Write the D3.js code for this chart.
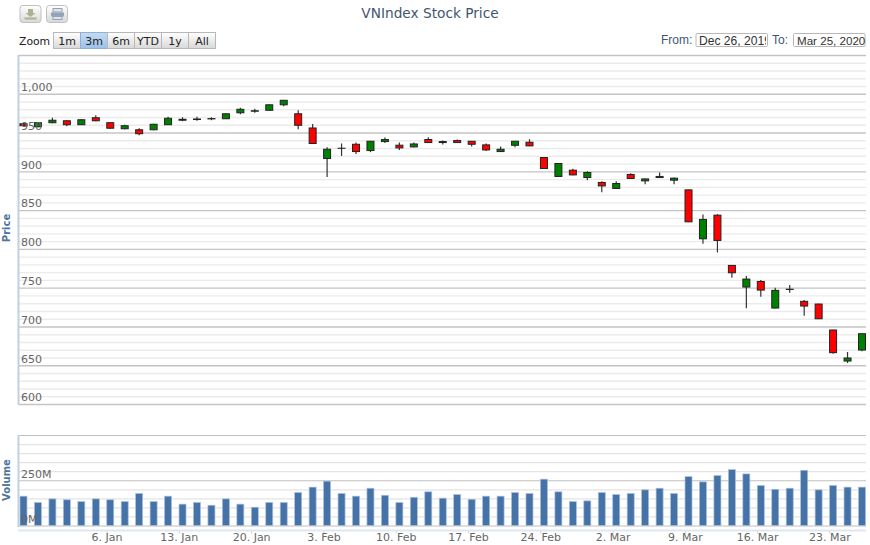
<!DOCTYPE html>
<html>
<head>
<meta charset="utf-8">
<script src="https://cdn.jsdelivr.net/npm/d3@7"></script>
<style>
html, body { margin: 0; padding: 0; background: #fff; overflow: hidden; }
svg { display: block; font-family: "DejaVu Sans", sans-serif; }
</style>
</head>
<body>
<div id="chart"></div>
<script>
// trading days, 26 Dec 2019 - 25 Mar 2020 (Tet holiday is skipped on the axis)
var dates = ["26. Dec","27. Dec","30. Dec","31. Dec","2. Jan","3. Jan",
  "6. Jan","7. Jan","8. Jan","9. Jan","10. Jan","13. Jan","14. Jan","15. Jan","16. Jan","17. Jan",
  "20. Jan","21. Jan","22. Jan","30. Jan","31. Jan",
  "3. Feb","4. Feb","5. Feb","6. Feb","7. Feb","10. Feb","11. Feb","12. Feb","13. Feb","14. Feb",
  "17. Feb","18. Feb","19. Feb","20. Feb","21. Feb","24. Feb","25. Feb","26. Feb","27. Feb","28. Feb",
  "2. Mar","3. Mar","4. Mar","5. Mar","6. Mar","9. Mar","10. Mar","11. Mar","12. Mar","13. Mar",
  "16. Mar","17. Mar","18. Mar","19. Mar","20. Mar","23. Mar","24. Mar","25. Mar"];

var open = [961.4,957.5,962.7,965.2,960.1,969.1,962.7,954.9,953.6,953.6,960.1,967.1,966.8,967.6,967.8,975.5,977.5,978.7,985.8,
  974.2,955.9,916.5,929.7,934.9,926.8,938.4,933.7,931.5,941.0,937.1,939.7,938.8,934.1,925.5,933.6,937.5,917.8,893.4,901.5,892.0,
  885.6,877.9,895.9,887.7,892.0,888.6,876.1,813.0,843.5,778.7,750.8,758.0,723.7,747.7,732.4,728.9,695.4,655.4,669.6];
var close = [958.8,962.7,965.9,960.1,966.5,965.2,955.6,958.8,948.5,960.7,968.4,965.9,967.5,968.0,974.2,980.0,978.1,985.8,991.6,
  959.4,935.9,928.5,929.8,925.5,938.8,941.0,930.2,935.3,937.1,938.4,937.1,934.9,927.6,928.5,938.8,932.8,903.6,910.1,895.4,898.5,
  881.2,884.3,890.8,890.2,893.4,891.2,834.9,838.0,810.9,769.2,761.1,746.9,746.5,748.0,726.3,709.9,666.2,659.3,690.6];
var high = [962.0,963.0,969.1,965.9,967.0,972.3,963.0,960.1,955.6,961.2,970.4,969.7,970.4,969.7,974.6,981.9,980.7,986.2,992.0,
  978.8,961.1,931.1,935.9,937.1,939.2,943.6,937.1,937.1,943.9,939.7,941.0,939.2,935.9,932.0,939.2,941.4,918.0,910.5,903.4,900.2,
  887.3,887.3,897.6,890.6,898.5,892.0,876.4,844.4,844.8,779.0,765.0,759.8,749.9,753.4,734.0,729.2,695.7,667.0,691.0];
var low = [958.1,957.0,962.0,958.1,960.0,964.6,955.0,954.3,946.6,953.0,959.8,964.6,965.2,965.9,967.4,973.6,975.5,978.3,983.9,
  954.3,935.6,892.8,919.9,922.5,924.7,936.6,927.6,931.0,936.8,934.6,936.8,932.0,926.3,925.0,931.1,932.5,903.3,893.0,895.0,888.6,
  873.1,877.5,890.4,883.4,891.8,883.4,834.5,806.5,795.4,762.8,723.3,738.3,723.3,743.4,713.8,709.6,664.9,652.9,667.9];
var volume = [162,127,147,142,132,147,142,132,177,132,162,118,127,112,147,118,101,127,127,
  182,212,245,177,162,206,167,127,156,186,151,171,145,162,162,182,177,256,186,132,
  136,182,171,177,197,206,177,270,241,276,309,285,221,200,206,305,197,221,212,212];

var xTickLabels = ["6. Jan","13. Jan","20. Jan","3. Feb","10. Feb","17. Feb","24. Feb","2. Mar","9. Mar","16. Mar","23. Mar"];
var priceTicks = [600,650,700,750,800,850,900,950,1000,1050];
var priceMinor = d3.range(600,1050,10);
var volumeTicks = [0,250,500];
var volumeMinor = d3.range(0,500,50);
var zoomButtons = ["1m","3m","6m","YTD","1y","All"];

var width = 870, height = 545;
var plotLeft = 19, plotRight = 866;

var svg = d3.select("#chart").append("svg")
  .attr("width", width)
  .attr("height", height);

var defs = svg.append("defs");
var btn = defs.append("linearGradient").attr("id", "btn").attr("x2", 0).attr("y2", 1);
btn.append("stop").attr("offset", 0).attr("stop-color", "#fff");
btn.append("stop").attr("offset", 1).attr("stop-color", "#d8d8d8");
var btnOn = defs.append("linearGradient").attr("id", "btnOn").attr("x2", 0).attr("y2", 1);
btnOn.append("stop").attr("offset", 0).attr("stop-color", "#c4dcf4");
btnOn.append("stop").attr("offset", 1).attr("stop-color", "#9cc0e8");
defs.append("clipPath").attr("id", "fromClip").append("rect")
  .attr("x", 697).attr("y", 33).attr("width", 69).attr("height", 14);

var x = d3.scaleLinear().domain([0, 58]).range([23.5, 862]);
var yPrice = d3.scaleLinear().domain([600, 1050]).range([404, 55]);
var yVol = d3.scaleLinear().domain([0, 500]).range([525.5, 435]);

// grid
function grid(scale, values, color, w) {
  var g = svg.append("g")
    .attr("transform", "translate(" + plotLeft + ",0)")
    .call(d3.axisRight(scale).tickValues(values).tickSize(plotRight - plotLeft).tickFormat(""));
  g.select(".domain").remove();
  g.selectAll("line").attr("stroke", color).attr("stroke-width", w);
  return g;
}
grid(yPrice, priceMinor.filter(d => d % 50), "#ebebeb", 1.4);
grid(yPrice, priceTicks, "#c4c4c4", 1.4);
grid(yVol, volumeMinor.filter(d => d % 250), "#e4e4e4", 1.2);
grid(yVol, volumeTicks, "#c0c0c0", 1.2);

// left axis lines
[[55, 405], [435, 527]].forEach(function(r) {
  svg.append("line").attr("x1", 18.5).attr("x2", 18.5).attr("y1", r[0]).attr("y2", r[1])
    .attr("stroke", "#c0d0e0").attr("stroke-width", 2);
});

// candles
var candle = svg.append("g").selectAll("g")
  .data(dates)
  .enter().append("g");
candle.append("line")
  .attr("x1", (d, i) => x(i))
  .attr("x2", (d, i) => x(i))
  .attr("y1", (d, i) => yPrice(high[i]))
  .attr("y2", (d, i) => yPrice(low[i]))
  .attr("stroke", "#333")
  .attr("stroke-width", 1.2);
candle.append("rect")
  .attr("x", (d, i) => x(i) - 3.5)
  .attr("width", 7)
  .attr("y", (d, i) => yPrice(Math.max(open[i], close[i])))
  .attr("height", (d, i) => Math.abs(yPrice(open[i]) - yPrice(close[i])))
  .attr("fill", (d, i) => close[i] >= open[i] ? "#008000" : "#ff0000")
  .attr("stroke", "#222")
  .attr("stroke-width", 1);

// volume bars
svg.append("g").selectAll("rect")
  .data(volume)
  .enter().append("rect")
  .attr("x", (d, i) => x(i) - 3.5)
  .attr("width", 7)
  .attr("y", d => yVol(d))
  .attr("height", d => yVol(0) - yVol(d))
  .attr("fill", "#4572a7")
  .attr("stroke", "#a9bfdc")
  .attr("stroke-width", 0.7);

// value labels go over the marks
function labels(scale, values, fmt, dy) {
  var g = svg.append("g")
    .attr("transform", "translate(21,0)")
    .call(d3.axisRight(scale).tickValues(values).tickSize(0).tickPadding(0).tickFormat(fmt));
  g.select(".domain").remove();
  g.selectAll("text")
    .attr("dy", dy)
    .attr("fill", "#666")
    .style("font-size", "11px")
    .style("font-family", '"DejaVu Sans", sans-serif');
}
labels(yPrice, priceTicks.slice(0, 9), d3.format(","), -3.2);
labels(yVol, volumeTicks.slice(0, 2), d => d + "M", -3);

// date axis, ticks sit a little left of the candle
var xAxis = svg.append("g")
  .attr("transform", "translate(-3.7,530.5)")
  .call(d3.axisBottom(x)
    .tickValues(xTickLabels.map(d => dates.indexOf(d)))
    .tickSize(3)
    .tickFormat(i => dates[i]));
xAxis.select(".domain").remove();
xAxis.selectAll("line").attr("stroke", "#c0d0e0");
xAxis.selectAll("text")
  .attr("y", 2.8)
  .attr("fill", "#666")
  .style("font-size", "11px")
  .style("font-family", '"DejaVu Sans", sans-serif');
svg.append("line").attr("x1", 18).attr("x2", plotRight).attr("y1", 530.5).attr("y2", 530.5)
  .attr("stroke", "#dfe7f0").attr("stroke-width", 2);

// titles
svg.append("text").attr("x", 430).attr("y", 18).attr("text-anchor", "middle")
  .attr("fill", "#3e576f").style("font-size", "13.7px").text("VNIndex Stock Price");
svg.append("text").attr("transform", "translate(10,228) rotate(-90)").attr("text-anchor", "middle")
  .attr("fill", "#4d759e").style("font-size", "10px").style("font-weight", "bold").text("Price");
svg.append("text").attr("transform", "translate(10,480) rotate(-90)").attr("text-anchor", "middle")
  .attr("fill", "#4d759e").style("font-size", "10px").style("font-weight", "bold").text("Volume");

// range selector
svg.append("text").attr("x", 19).attr("y", 45).attr("fill", "#222").style("font-size", "10.8px").text("Zoom");
var zoomBtn = svg.append("g").selectAll("g")
  .data(zoomButtons)
  .enter().append("g")
  .attr("transform", (d, i) => "translate(" + (53.5 + i * 27) + ",32.5)");
zoomBtn.append("rect")
  .attr("width", 27).attr("height", 16)
  .attr("fill", d => d == "3m" ? "url(#btnOn)" : "url(#btn)")
  .attr("stroke", d => d == "3m" ? "#8fb0d4" : "#b8b8b8");
zoomBtn.append("text")
  .attr("x", 13.5).attr("y", 12.5).attr("text-anchor", "middle")
  .attr("fill", "#222").style("font-size", "11px").text(d => d);

// date inputs
var inputFont = '"Liberation Sans", Arial, sans-serif';
svg.append("text").attr("x", 661).attr("y", 44).attr("fill", "#3e576f")
  .style("font-family", inputFont).style("font-size", "12px").text("From:");
svg.append("text").attr("x", 772).attr("y", 44).attr("fill", "#3e576f")
  .style("font-family", inputFont).style("font-size", "12px").text("To:");
[[696, 71.5], [793.5, 71.5]].forEach(function(r) {
  svg.append("rect").attr("x", r[0]).attr("y", 33.5).attr("width", r[1]).attr("height", 13)
    .attr("rx", 1).attr("fill", "#fff").attr("stroke", "#b8b8b8");
});
svg.append("text").attr("x", 699).attr("y", 44.5).attr("clip-path", "url(#fromClip)").attr("fill", "#333")
  .style("font-family", inputFont).style("font-size", "12.1px").text("Dec 26, 2019");
svg.append("text").attr("x", 797).attr("y", 44.5).attr("fill", "#333")
  .style("font-family", inputFont).style("font-size", "11.6px").text("Mar 25, 2020");

// export buttons
[20, 46.5].forEach(function(bx) {
  svg.append("rect").attr("x", bx).attr("y", 5.5).attr("width", 21).attr("height", 17).attr("rx", 3)
    .attr("fill", "url(#btn)").attr("stroke", "#c0c0c0");
});
svg.append("path").attr("d", "M28 9h5v4h2.5l-5 4-5-4h2.5z").attr("fill", "#a9b48f");
svg.append("rect").attr("x", 24.5).attr("y", 17.5).attr("width", 12).attr("height", 2).attr("fill", "#a9b48f");
svg.append("rect").attr("x", 53).attr("y", 8.5).attr("width", 9).attr("height", 3.5).attr("fill", "#dfe3ea").attr("stroke", "#94a3b5");
svg.append("rect").attr("x", 51).attr("y", 12.5).attr("width", 13).attr("height", 4).attr("fill", "#94a3b5");
svg.append("rect").attr("x", 53).attr("y", 16.5).attr("width", 9).attr("height", 3).attr("fill", "#dfe3ea").attr("stroke", "#94a3b5");
</script>
</body>
</html>
